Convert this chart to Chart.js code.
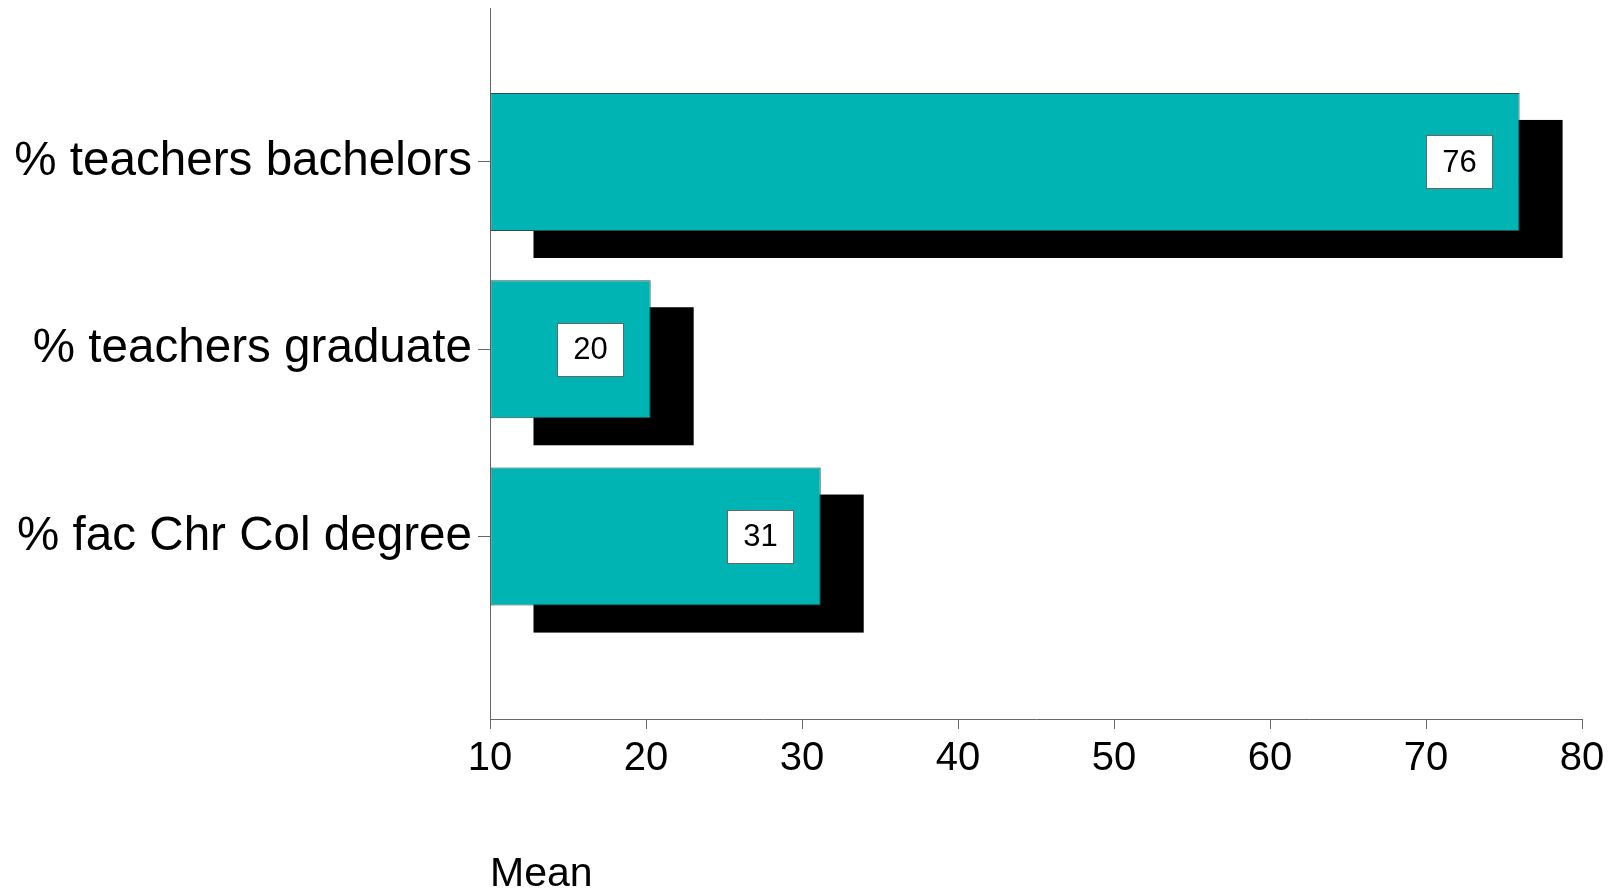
<!DOCTYPE html>
<html>
<head>
<meta charset="utf-8">
<script src="https://cdn.jsdelivr.net/npm/chart.js@4.4.1/dist/chart.umd.min.js"></script>
<style>
    html, body { margin: 0; padding: 0; background: #fff; }
    #wrap { width: 1616px; height: 895px; }
</style>
</head>
<body>
<div id="wrap"><canvas id="meanChart" width="1616" height="895"></canvas></div>
<script>
// data
const categories = ['% teachers bachelors', '% teachers graduate', '% fac Chr Col degree'];
const means = [76, 20.3, 31.2];
const shownValues = ['76', '20', '31'];
const xTicks = [10, 20, 30, 40, 50, 60, 70, 80];

const FONT = "'Liberation Sans', Arial, sans-serif";

// black drop shadow behind each bar, taken from the bar elements
const shadowPlugin = {
    id: 'barShadow',
    beforeDatasetsDraw(chart) {
        const ctx = chart.ctx;
        const meta = chart.getDatasetMeta(0);
        ctx.save();
        ctx.fillStyle = '#000';
        meta.data.forEach(function (bar) {
            const left = Math.min(bar.base, bar.x);
            const w = Math.abs(bar.x - bar.base);
            const top = bar.y - bar.height / 2;
            ctx.fillRect(left + 43, top + 27, w, bar.height);
        });
        ctx.restore();
    }
};

// white value boxes near the end of each bar
const valueBoxPlugin = {
    id: 'valueBoxes',
    afterDatasetsDraw(chart) {
        const ctx = chart.ctx;
        const meta = chart.getDatasetMeta(0);
        ctx.save();
        ctx.font = '31px ' + FONT;
        ctx.textAlign = 'center';
        ctx.textBaseline = 'middle';
        meta.data.forEach(function (bar, i) {
            const txt = shownValues[i];
            const w = 66;
            const h = 53;
            const right = bar.x - 28;
            const x = Math.round(right - w) + 0.5;
            const y = Math.round(bar.y - h / 2) + 0.5;
            ctx.fillStyle = '#fff';
            ctx.fillRect(x, y, w, h);
            ctx.strokeStyle = '#666';
            ctx.lineWidth = 1;
            ctx.strokeRect(x, y, w, h);
            ctx.fillStyle = '#000';
            ctx.fillText(txt, x + w / 2, bar.y + 1);
        });
        ctx.restore();
    }
};

document.addEventListener("DOMContentLoaded", function () {
    const ctx = document.getElementById('meanChart').getContext('2d');
    new Chart(ctx, {
        type: 'bar',
        data: {
            datasets: [{
                label: 'Mean',
                data: means.map(function (v, i) { return { x: v, y: i + 1 }; }),
                base: xTicks[0],
                backgroundColor: '#00b4b4',
                borderColor: '#2f4f4f',
                borderWidth: 1,
                borderSkipped: false,
                categoryPercentage: 1,
                barPercentage: 0.737
            }]
        },
        options: {
            indexAxis: 'y',
            responsive: false,
            animation: false,
            layout: {
                padding: { top: 8, right: 34, bottom: 0, left: 0 }
            },
            plugins: {
                legend: { display: false },
                tooltip: { enabled: false }
            },
            scales: {
                x: {
                    type: 'linear',
                    min: 10,
                    max: 80,
                    afterBuildTicks: function (scale) {
                        scale.ticks = xTicks.map(function (v) { return { value: v }; });
                    },
                    afterFit: function (scale) {
                        scale.height = 176;
                    },
                    grid: {
                        drawOnChartArea: false,
                        drawTicks: true,
                        tickLength: 10,
                        color: '#666'
                    },
                    border: { display: true, color: '#666', width: 1 },
                    ticks: {
                        color: '#000',
                        padding: 6,
                        maxRotation: 0,
                        font: { family: FONT, size: 40 }
                    },
                    title: {
                        display: true,
                        text: 'Mean',
                        align: 'start',
                        color: '#000',
                        padding: { top: 0, bottom: 0 },
                        font: { family: FONT, size: 41, lineHeight: 1.0 }
                    }
                },
                y: {
                    type: 'linear',
                    reverse: true,
                    offset: false,
                    min: 0.178,
                    max: 3.974,
                    afterBuildTicks: function (scale) {
                        scale.ticks = categories.map(function (c, i) { return { value: i + 1 }; });
                    },
                    afterFit: function (scale) {
                        scale.width = 490;
                        scale.paddingTop = 0;
                        scale.paddingBottom = 0;
                    },
                    grid: {
                        offset: false,
                        drawOnChartArea: false,
                        drawTicks: true,
                        tickLength: 12,
                        color: '#666'
                    },
                    border: { display: true, color: '#666', width: 1 },
                    ticks: {
                        color: '#000',
                        padding: 6,
                        font: { family: FONT, size: 47.6 },
                        callback: function (value) {
                            return categories[value - 1];
                        }
                    }
                }
            }
        },
        plugins: [shadowPlugin, valueBoxPlugin]
    });
});
</script>
</body>
</html>
